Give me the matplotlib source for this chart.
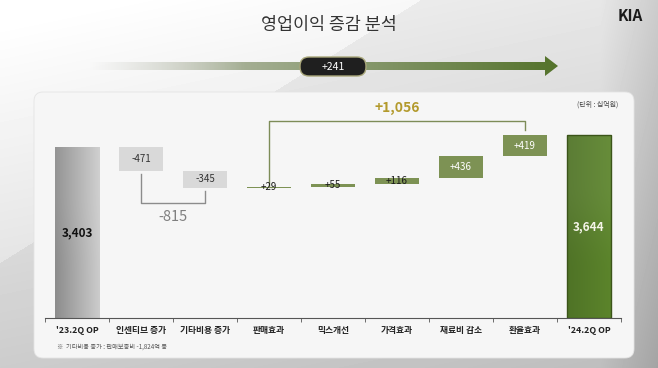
import numpy as np
import matplotlib
matplotlib.use("Agg")
import matplotlib.pyplot as plt
from matplotlib.patches import FancyBboxPatch, Polygon

plt.rcParams['font.family'] = ['Noto Sans CJK KR', 'DejaVu Sans']

# data (십억원)
categories = ["'23.2Q OP", "인센티브 증가", "기타비용 증가", "판매효과", "믹스개선",
              "가격효과", "재료비 감소", "환율효과", "'24.2Q OP"]
values = [3403, -471, -345, 29, 55, 116, 436, 419, 3644]
value_labels = ["3,403", "-471", "-345", "+29", "+55", "+116", "+436", "+419", "3,644"]
total_change = "+241"
cost_sum = "-815"
gain_sum = "+1,056"

W, H = 658, 368
fig = plt.figure(figsize=(W / 100, H / 100), dpi=100)

# ---- background layer in pixel coords
bg = fig.add_axes([0, 0, 1, 1])
bg.set_xlim(0, W)
bg.set_ylim(H, 0)
bg.axis('off')

yy, xx = np.mgrid[0:H, 0:W]
shade = 0.74 + 0.16 * (1 - yy / H) + 0.06 * (1 - xx / W)
shade += 0.05 * ((xx + 1.6 * yy) < 420)
shade -= 0.10 * np.clip((xx - 600) / 58, 0, 1)
bg.imshow(np.clip(shade, 0, 1), cmap='gray', vmin=0, vmax=1,
          extent=[0, W, H, 0], aspect='auto', zorder=0)

panel = FancyBboxPatch((34, 92), 600, 266, boxstyle="round,pad=0,rounding_size=9",
                       facecolor='#f6f6f6', edgecolor='#e4e4e4', lw=0.6, zorder=1)
bg.add_patch(panel)

bg.text(329, 25, "영업이익 증감 분석", ha='center', va='center', fontsize=12.5, color='#333333')
bg.text(630, 16, "KIA", ha='center', va='center', fontsize=11, fontweight='bold',
        fontstyle='italic', color='#1a1a1a')

# arrow band with gradient
band = Polygon([(88, 62), (545, 62), (545, 56), (558, 66), (545, 76), (545, 70), (88, 70)],
               closed=True, facecolor='none', edgecolor='none')
bg.add_patch(band)
grad = np.zeros((1, 256, 4))
t = np.linspace(0, 1, 256)
start = np.array([0.80, 0.80, 0.78])
end = np.array([0.33, 0.45, 0.17])
grad[0, :, :3] = start + (end - start)[None, :] * t[:, None]
grad[0, :, 3] = np.clip(t * 3, 0, 1)
im = bg.imshow(grad, extent=[88, 558, 76, 56], aspect='auto', zorder=2)
im.set_clip_path(band)

pill = FancyBboxPatch((300, 57), 66, 19, boxstyle="round,pad=0,rounding_size=9",
                      facecolor='#1f1f1f', edgecolor='#a9a77a', lw=1, zorder=3)
bg.add_patch(pill)
bg.text(333, 66.5, total_change, ha='center', va='center', fontsize=7.5, color='white', zorder=4)

bg.text(57, 347, "※  기타비용 증가 : 판매보증비 -1,824억 등", ha='left', va='center',
        fontsize=4.5, color='#555555', zorder=3)

# ---- waterfall axes
ax = fig.add_axes([45 / W, (H - 318) / H, 576 / W, 226 / H])
ax.patch.set_alpha(0)
ax.set_xlim(-0.5, len(categories) - 0.5)
ax.set_ylim(0, 226 / 0.05025)

x = np.arange(len(categories))
bottoms, heights, colors = [], [], []
running = 0
for i, v in enumerate(values):
    if i == 0 or i == len(values) - 1:
        bottoms.append(0)
        heights.append(v)
        running = v
        colors.append('none')
    else:
        if v < 0:
            bottoms.append(running + v)
            heights.append(-v)
            colors.append('#d9d9d9')
        else:
            bottoms.append(running)
            heights.append(v)
            colors.append('#7d9254')
        running += v

bw = 0.69
bars = ax.bar(x, heights, bottom=bottoms, width=bw, color=colors, edgecolor='none', zorder=2)
bars[-1].set_edgecolor('#3b5419')
bars[-1].set_linewidth(1.0)
bars[-1].set_zorder(3)

# gradient fills for the two totals
def grad_bar(bar, c_left, c_right):
    xs, y0 = bar.get_x(), bar.get_y()
    g = np.zeros((2, 64, 3))
    tt = np.linspace(0, 1, 64)
    cl, cr = np.array(c_left), np.array(c_right)
    g[0] = cl + (cr - cl) * tt[:, None]
    g[1] = g[0] * 0.93 + 0.07
    img = ax.imshow(g, extent=[xs, xs + bar.get_width(), y0, y0 + bar.get_height()],
                    aspect='auto', zorder=2, origin='lower')
    img.set_clip_path(bar)

grad_bar(bars[0], (0.55, 0.55, 0.55), (0.80, 0.80, 0.80))
grad_bar(bars[-1], (0.31, 0.45, 0.15), (0.36, 0.52, 0.17))

# value labels
for i, lab in enumerate(value_labels):
    b, h = bottoms[i], heights[i]
    if i == 0:
        ax.text(x[i], h / 2, lab, ha='center', va='center', fontsize=8.5, fontweight='bold', color='#111111', zorder=4)
    elif i == len(values) - 1:
        ax.text(x[i], h / 2, lab, ha='center', va='center', fontsize=8.5, fontweight='bold', color='#f4f4e8', zorder=4)
    elif values[i] < 0:
        ax.text(x[i], b + h / 2, lab, ha='center', va='center', fontsize=7, color='#333333', zorder=4)
    elif h > 300:
        ax.text(x[i], b + h / 2, lab, ha='center', va='center', fontsize=7, color='white', zorder=4)
    else:
        ax.text(x[i], b + h / 2, lab, ha='center', va='center', fontsize=7, color='#1a1a1a', zorder=4)

# bracket for cost increase
top1 = bottoms[1]
top2 = bottoms[2]
low = 2290
ax.plot([x[1], x[1], x[2], x[2]], [top1 - 60, low, low, top2 - 60], color='#8c8c8c', lw=1, zorder=3)
ax.text((x[1] + x[2]) / 2, 2010, cost_sum, ha='center', va='center', fontsize=10.5, color='#7f7f7f')

# bracket for gains
high = 3920
ax.plot([x[3], x[3], x[7], x[7]], [bottoms[3] + heights[3], high, high, 3745],
        color='#7d8c58', lw=1, zorder=3)
ax.text(5.0, 4180, gain_sum, ha='center', va='center', fontsize=10, color='#b39a2c', fontweight='bold')

ax.text(8.45, 4240, "(단위 : 십억원)", ha='right', va='center', fontsize=5, color='#444444')

# axis
for s in ['top', 'right', 'left']:
    ax.spines[s].set_visible(False)
ax.spines['bottom'].set_color('#555555')
ax.spines['bottom'].set_linewidth(0.8)
ax.set_yticks([])
ax.set_xticks(x)
ax.set_xticklabels(categories, fontsize=6.3, fontweight='bold', color='#222222')
ax.tick_params(axis='x', which='major', length=0, pad=6)
ax.set_xticks(np.arange(-0.5, len(categories), 1), minor=True)
ax.tick_params(axis='x', which='minor', length=3, color='#555555', direction='out')

fig.savefig("out.png", dpi=100)
